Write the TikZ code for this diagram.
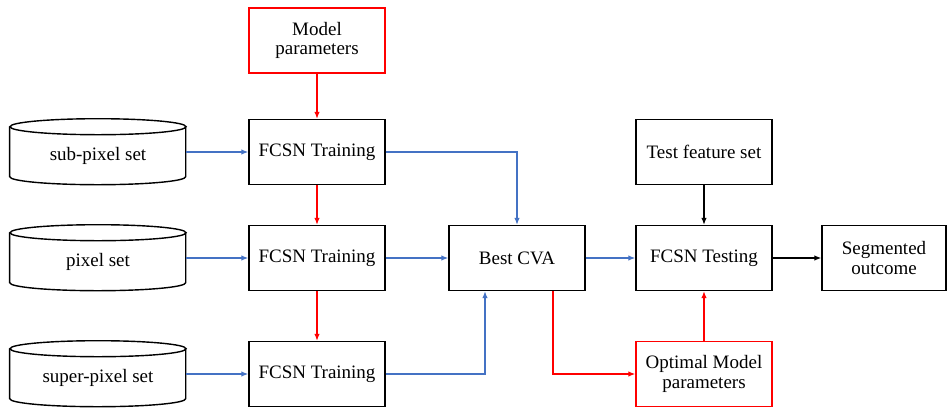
\documentclass[tikz,border=0pt]{standalone}
\usepackage{fontspec}
\setmainfont{Liberation Serif}
\usetikzlibrary{arrows.meta,positioning}

\definecolor{lineblue}{RGB}{68,114,196}
\tikzset{
	box/.style={draw, line width=1pt, minimum width=3.4cm, minimum height=1.625cm, align=center, inner sep=0pt},
	redbox/.style={box, draw=red},
	dbset/.style={minimum width=4.4cm, minimum height=1.65cm, inner sep=0pt},
	bluearrow/.style={draw=lineblue, line width=0.9pt, -{Latex[length=5pt,width=4pt]}},
	redarrow/.style={draw=red, line width=0.9pt, -{Latex[length=5pt,width=4pt]}},
	blackarrow/.style={draw=black, line width=0.9pt, -{Latex[length=5pt,width=4pt]}}
}
\newcommand{\dbshape}[1]{%
	\draw[line width=1pt] (#1.north west) ++(0,-4) -- ++(0,-50)
		arc[start angle=180, end angle=360, x radius=2.2cm, y radius=0.2cm] -- ++(0,50);
	\draw[line width=1pt] (#1.north) ++(0,-4) ellipse [x radius=2.2cm, y radius=0.2cm];
}

\begin{document}
\begin{tikzpicture}[x=0.025cm, y=0.025cm, font=\fontsize{13.5}{13.7}\selectfont]
	\useasboundingbox (0,0) rectangle (949,409);

	% training column
	\node[redbox] (params) at (317,368.5) {Model\\parameters};
	\node[box] (train1) at (317,257) {FCSN Training};
	\node[box] (train2) at (317,151) {FCSN Training};
	\node[box] (train3) at (317,35) {FCSN Training};

	% data sets
	\node[dbset] (subpix) at (98,253) {sub-pixel set};
	\node[dbset] (pix) at (98,147) {pixel set};
	\node[dbset] (superpix) at (98,31) {super-pixel set};
	\dbshape{subpix}
	\dbshape{pix}
	\dbshape{superpix}

	% right part
	\node[box] (cva) at (517,151) {Best CVA};
	\node[box] (testset) at (704,257) {Test feature set};
	\node[box] (testing) at (704,151) {FCSN Testing};
	\node[redbox] (optimal) at (704,35) {Optimal Model\\parameters};
	\node[box, minimum width=3.1cm] (outcome) at (884,151) {Segmented\\outcome};

	\draw[bluearrow] (subpix.east |- train1) -- (train1);
	\draw[bluearrow] (pix.east |- train2) -- (train2);
	\draw[bluearrow] (superpix.east |- train3) -- (train3);

	\draw[redarrow] (params) -- (train1);
	\draw[redarrow] (train1) -- (train2);
	\draw[redarrow] (train2) -- (train3);

	\draw[bluearrow] (train1.east) -| (cva.north);
	\draw[bluearrow] (train2) -- (cva);
	\draw[bluearrow] (train3.east) -| ([xshift=-0.8cm]cva.south);
	\draw[bluearrow] (cva) -- (testing);

	\draw[redarrow] ([xshift=0.9cm]cva.south) |- (optimal.west);
	\draw[redarrow] (optimal) -- (testing);
	\draw[blackarrow] (testset) -- (testing);
	\draw[blackarrow] (testing) -- (outcome);
\end{tikzpicture}
\end{document}
